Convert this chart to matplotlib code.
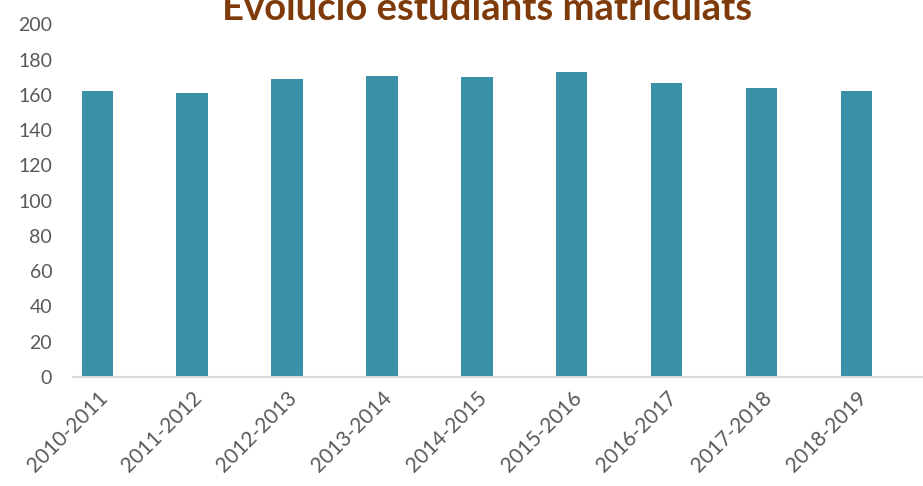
import matplotlib.pyplot as plt
import numpy as np

# ── Data ─────────────────────────────────────────────
cursos = ['2010-2011', '2011-2012', '2012-2013', '2013-2014', '2014-2015',
          '2015-2016', '2016-2017', '2017-2018', '2018-2019']
estudiants = [162, 161, 169, 171, 170, 173, 167, 164, 162]
y_ticks = list(range(0, 201, 20))

plt.rcParams['font.family'] = ['Lato', 'DejaVu Sans']

BAR = '#3A90A6'
GREY = '#595959'
BROWN = '#7F3A0A'

fig = plt.figure(figsize=(9.23, 4.86), dpi=100)
fig.patch.set_facecolor('white')
ax = fig.add_axes([0.0791, 0.2243, 0.9209, 0.7253])

x = np.arange(len(cursos))
ax.bar(x, estudiants, width=0.33, color=BAR)

ax.set_xlim(-0.255, 8.70)
ax.set_ylim(0, 200)
ax.set_yticks(y_ticks)
ax.set_xticks(x)
ax.set_xticklabels(cursos, rotation=45, ha='right', rotation_mode='anchor')
ax.tick_params(axis='y', length=0, pad=15, labelsize=14, labelcolor=GREY)
ax.tick_params(axis='x', length=0, pad=8, labelsize=15, labelcolor=GREY)

ax.spines[['top', 'right', 'left']].set_visible(False)
ax.spines['bottom'].set_color('#D9D9D9')
ax.spines['bottom'].set_linewidth(1.5)

# title is partly cut at the top edge, as in the original
fig.text(0.528, 0.958, 'Evolució estudiants matriculats', ha='center', va='baseline',
         fontsize=27.5, fontweight='bold', color=BROWN)

plt.savefig('out.png', dpi=100, facecolor='white')
